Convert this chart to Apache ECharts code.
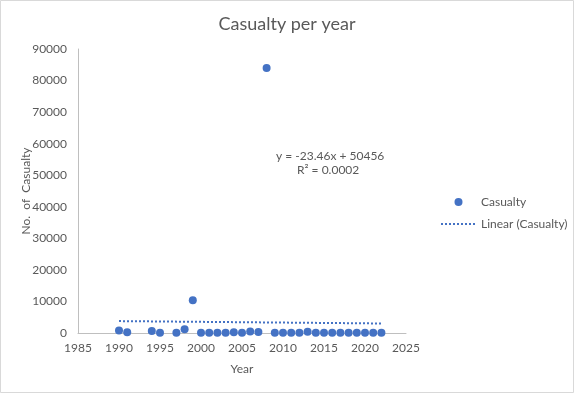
<!DOCTYPE html>
<html>
<head>
<meta charset="utf-8">
<script src="https://cdn.jsdelivr.net/npm/echarts@6/dist/echarts.min.js"></script>
<style>
  html, body { margin: 0; padding: 0; background: #fff; }
  #main { width: 574px; height: 393px; }
</style>
</head>
<body>
<div id="main"></div>
<script>
// data
var years = [1990, 1991, 1994, 1995, 1997, 1998, 1999, 2000, 2001, 2002, 2003, 2004, 2005, 2006, 2007,
             2008, 2009, 2010, 2011, 2012, 2013, 2014, 2015, 2016, 2017, 2018, 2019, 2020, 2021, 2022];
var casualties = [800, 200, 600, 100, 50, 1200, 10400, 100, 100, 100, 100, 200, 100, 500, 300,
                  84000, 100, 100, 100, 100, 400, 100, 100, 100, 100, 100, 100, 100, 100, 100];
// linear fit shown on the chart
var slope = -23.46;
var intercept = 50456;
var rSquared = '0.0002';

var xTicks = [1985, 2025, 5];
var yTicks = [0, 90000, 10000];

var points = years.map(function (y, i) { return [y, casualties[i]]; });
var firstYear = years[0], lastYear = years[years.length - 1];
var trend = [[firstYear, slope * firstYear + intercept], [lastYear, slope * lastYear + intercept]];

var txt = '#595959';
var font = 'Lato';
var blue = '#4472C4';

var myChart = echarts.init(document.getElementById('main'));
myChart.setOption({
    backgroundColor: '#fff',
    animation: false,
    textStyle: { fontFamily: font },
    title: {
        text: 'Casualty per year',
        left: 'center',
        top: 10,
        textStyle: { color: txt, fontSize: 18, fontWeight: 'normal', fontFamily: font }
    },
    legend: {
        orient: 'vertical',
        left: 435,
        top: 191,
        itemWidth: 35,
        itemHeight: 8,
        itemGap: 10,
        textStyle: { color: txt, fontSize: 12, fontFamily: font },
        data: ['Casualty', { name: 'Linear (Casualty)', itemStyle: { opacity: 0 } }]
    },
    grid: { left: 78, right: 168, top: 49, bottom: 60 },
    xAxis: {
        type: 'value',
        min: xTicks[0], max: xTicks[1], interval: xTicks[2],
        name: 'Year',
        nameLocation: 'middle',
        nameGap: 30,
        nameMoveOverlap: false,
        nameTextStyle: { color: txt, fontSize: 12 },
        axisLine: { show: true, lineStyle: { color: '#BFBFBF', width: 1 } },
        axisTick: { show: false },
        splitLine: { show: false },
        axisLabel: { color: txt, fontSize: 12, margin: 9, formatter: function (v) { return String(v); } }
    },
    yAxis: {
        type: 'value',
        min: yTicks[0], max: yTicks[1], interval: yTicks[2],
        name: 'No.  of  Casualty',
        nameLocation: 'middle',
        nameGap: 46,
        nameMoveOverlap: false,
        nameTextStyle: { color: txt, fontSize: 12 },
        axisLine: { show: true, lineStyle: { color: '#BFBFBF', width: 1 } },
        axisTick: { show: false },
        splitLine: { show: false },
        axisLabel: { color: txt, fontSize: 12, margin: 11, formatter: function (v) { return String(v); } }
    },
    series: [
        {
            name: 'Casualty',
            type: 'scatter',
            symbol: 'circle',
            symbolSize: 8,
            itemStyle: { color: blue, opacity: 1 },
            data: points,
            z: 3
        },
        {
            name: 'Linear (Casualty)',
            type: 'line',
            symbol: 'none',
            itemStyle: { color: blue },
            lineStyle: { color: blue, width: 2, type: [2, 2] },
            data: trend,
            z: 2
        }
    ],
    graphic: [
        {
            type: 'rect',
            shape: { x: 0.5, y: 0.5, width: 573, height: 392 },
            style: { fill: null, stroke: '#D9D9D9', lineWidth: 1 },
            silent: true
        },
        {
            type: 'text',
            left: 276, top: 150,
            style: { text: 'y = ' + slope + 'x + ' + intercept, fill: txt, font: '12px ' + font }
        },
        {
            type: 'text',
            left: 297, top: 164,
            style: { text: 'R² = ' + rSquared, fill: txt, font: '12px ' + font }
        }
    ]
});
</script>
</body>
</html>
